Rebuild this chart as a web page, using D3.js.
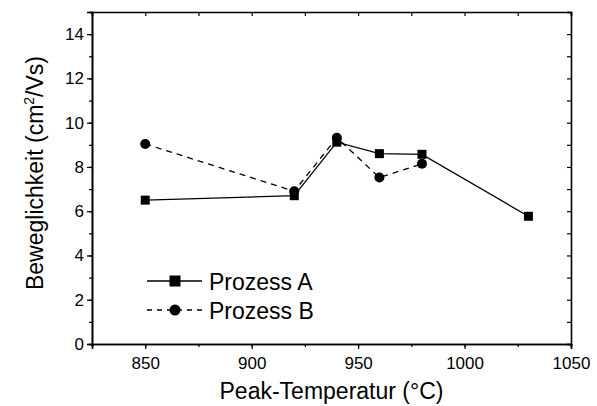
<!DOCTYPE html>
<html>
<head>
<meta charset="utf-8">
<script src="https://cdn.jsdelivr.net/npm/d3@7"></script>
<style>
  body { margin: 0; background: #fff; }
  text { font-family: "Liberation Sans", Arial, Helvetica, sans-serif; }
</style>
</head>
<body>
<div id="chart"></div>
<script>
// Peak temperature (°C)
const tempsA = [850, 920, 940, 960, 980, 1030];
const mobilityA = [6.5, 6.7, 9.12, 8.6, 8.57, 5.77];
const tempsB = [850, 920, 940, 960, 980];
const mobilityB = [9.04, 6.9, 9.32, 7.52, 8.14];

const xTicks = [850, 900, 950, 1000, 1050];
const yTicks = [0, 2, 4, 6, 8, 10, 12, 14];

const width = 597, height = 406;
const margin = { top: 12, right: 26, bottom: 62, left: 92 };
const w = width - margin.left - margin.right;
const h = height - margin.top - margin.bottom;

const svg = d3.select('#chart').append('svg')
    .attr('width', width)
    .attr('height', height);

const g = svg.append('g')
    .attr('transform', `translate(${margin.left},${margin.top})`);

const x = d3.scaleLinear().domain([825, 1050]).range([0, w]);
const y = d3.scaleLinear().domain([0, 15]).range([h, 0]);

const xMinor = d3.range(825, 1051, 25);
const yMinor = d3.range(0, 15.01, 1);

// main axes (ticks outward), mirror axes (ticks inward)
function styleAxis(sel) {
    sel.select('.domain').attr('stroke', '#000').attr('stroke-width', 1.6);
    sel.selectAll('.tick line').attr('stroke', '#000').attr('stroke-width', 1.2);
    sel.selectAll('text').attr('font-size', 17).attr('fill', '#000');
}

g.append('g').attr('transform', `translate(0,${h})`)
    .call(d3.axisBottom(x).tickValues(xMinor).tickSize(3).tickFormat(''))
    .call(styleAxis);
g.append('g').attr('transform', `translate(0,${h})`)
    .call(d3.axisBottom(x).tickValues(xTicks).tickSize(5).tickPadding(8).tickFormat(d3.format('d')))
    .call(styleAxis);
g.append('g')
    .call(d3.axisTop(x).tickValues(xMinor).tickSize(-4).tickFormat(''))
    .call(styleAxis);

g.append('g')
    .call(d3.axisLeft(y).tickValues(yMinor).tickSize(3).tickFormat(''))
    .call(styleAxis);
g.append('g')
    .call(d3.axisLeft(y).tickValues(yTicks).tickSize(5).tickPadding(3).tickFormat(d3.format('d')))
    .call(styleAxis);
g.append('g').attr('transform', `translate(${w},0)`)
    .call(d3.axisRight(y).tickValues(yMinor).tickSize(-4).tickFormat(''))
    .call(styleAxis);

// series
const seriesA = tempsA.map((t, i) => ({ t, v: mobilityA[i] }));
const seriesB = tempsB.map((t, i) => ({ t, v: mobilityB[i] }));

const line = d3.line().x(d => x(d.t)).y(d => y(d.v));

g.append('path').datum(seriesB)
    .attr('d', line)
    .attr('fill', 'none')
    .attr('stroke', '#000')
    .attr('stroke-width', 1.3)
    .attr('stroke-dasharray', '6,5');

g.append('path').datum(seriesA)
    .attr('d', line)
    .attr('fill', 'none')
    .attr('stroke', '#000')
    .attr('stroke-width', 1.3);

g.selectAll('.ptB').data(seriesB).join('circle')
    .attr('cx', d => x(d.t))
    .attr('cy', d => y(d.v))
    .attr('r', 5)
    .attr('fill', '#000');

g.selectAll('.ptA').data(seriesA).join('rect')
    .attr('x', d => x(d.t) - 4.5)
    .attr('y', d => y(d.v) - 4.5)
    .attr('width', 9)
    .attr('height', 9)
    .attr('fill', '#000');

// legend
const legend = svg.append('g').attr('transform', 'translate(147,281)');
legend.append('line').attr('x1', 0).attr('x2', 55).attr('y1', 0).attr('y2', 0)
    .attr('stroke', '#000').attr('stroke-width', 1.3);
legend.append('rect').attr('x', 22.5).attr('y', -5.5).attr('width', 11).attr('height', 11).attr('fill', '#000');
legend.append('text').attr('x', 62).attr('y', 8.5).attr('font-size', 23).text('Prozess A');

legend.append('line').attr('x1', 0).attr('x2', 55).attr('y1', 29).attr('y2', 29)
    .attr('stroke', '#000').attr('stroke-width', 1.3).attr('stroke-dasharray', '5,5');
legend.append('circle').attr('cx', 28).attr('cy', 29).attr('r', 5.5).attr('fill', '#000');
legend.append('text').attr('x', 62).attr('y', 37.5).attr('font-size', 23).text('Prozess B');

// axis titles
svg.append('text')
    .attr('x', margin.left + w / 2)
    .attr('y', 399)
    .attr('text-anchor', 'middle')
    .attr('font-size', 23)
    .text('Peak-Temperatur (°C)');

const yt = svg.append('text')
    .attr('transform', `translate(43,173) rotate(-90)`)
    .attr('text-anchor', 'middle')
    .attr('font-size', 23);
yt.append('tspan').text('Beweglichkeit (cm');
yt.append('tspan').attr('font-size', 14).attr('dy', -9).text('2');
yt.append('tspan').attr('dy', 9).text('/Vs)');
</script>
</body>
</html>
